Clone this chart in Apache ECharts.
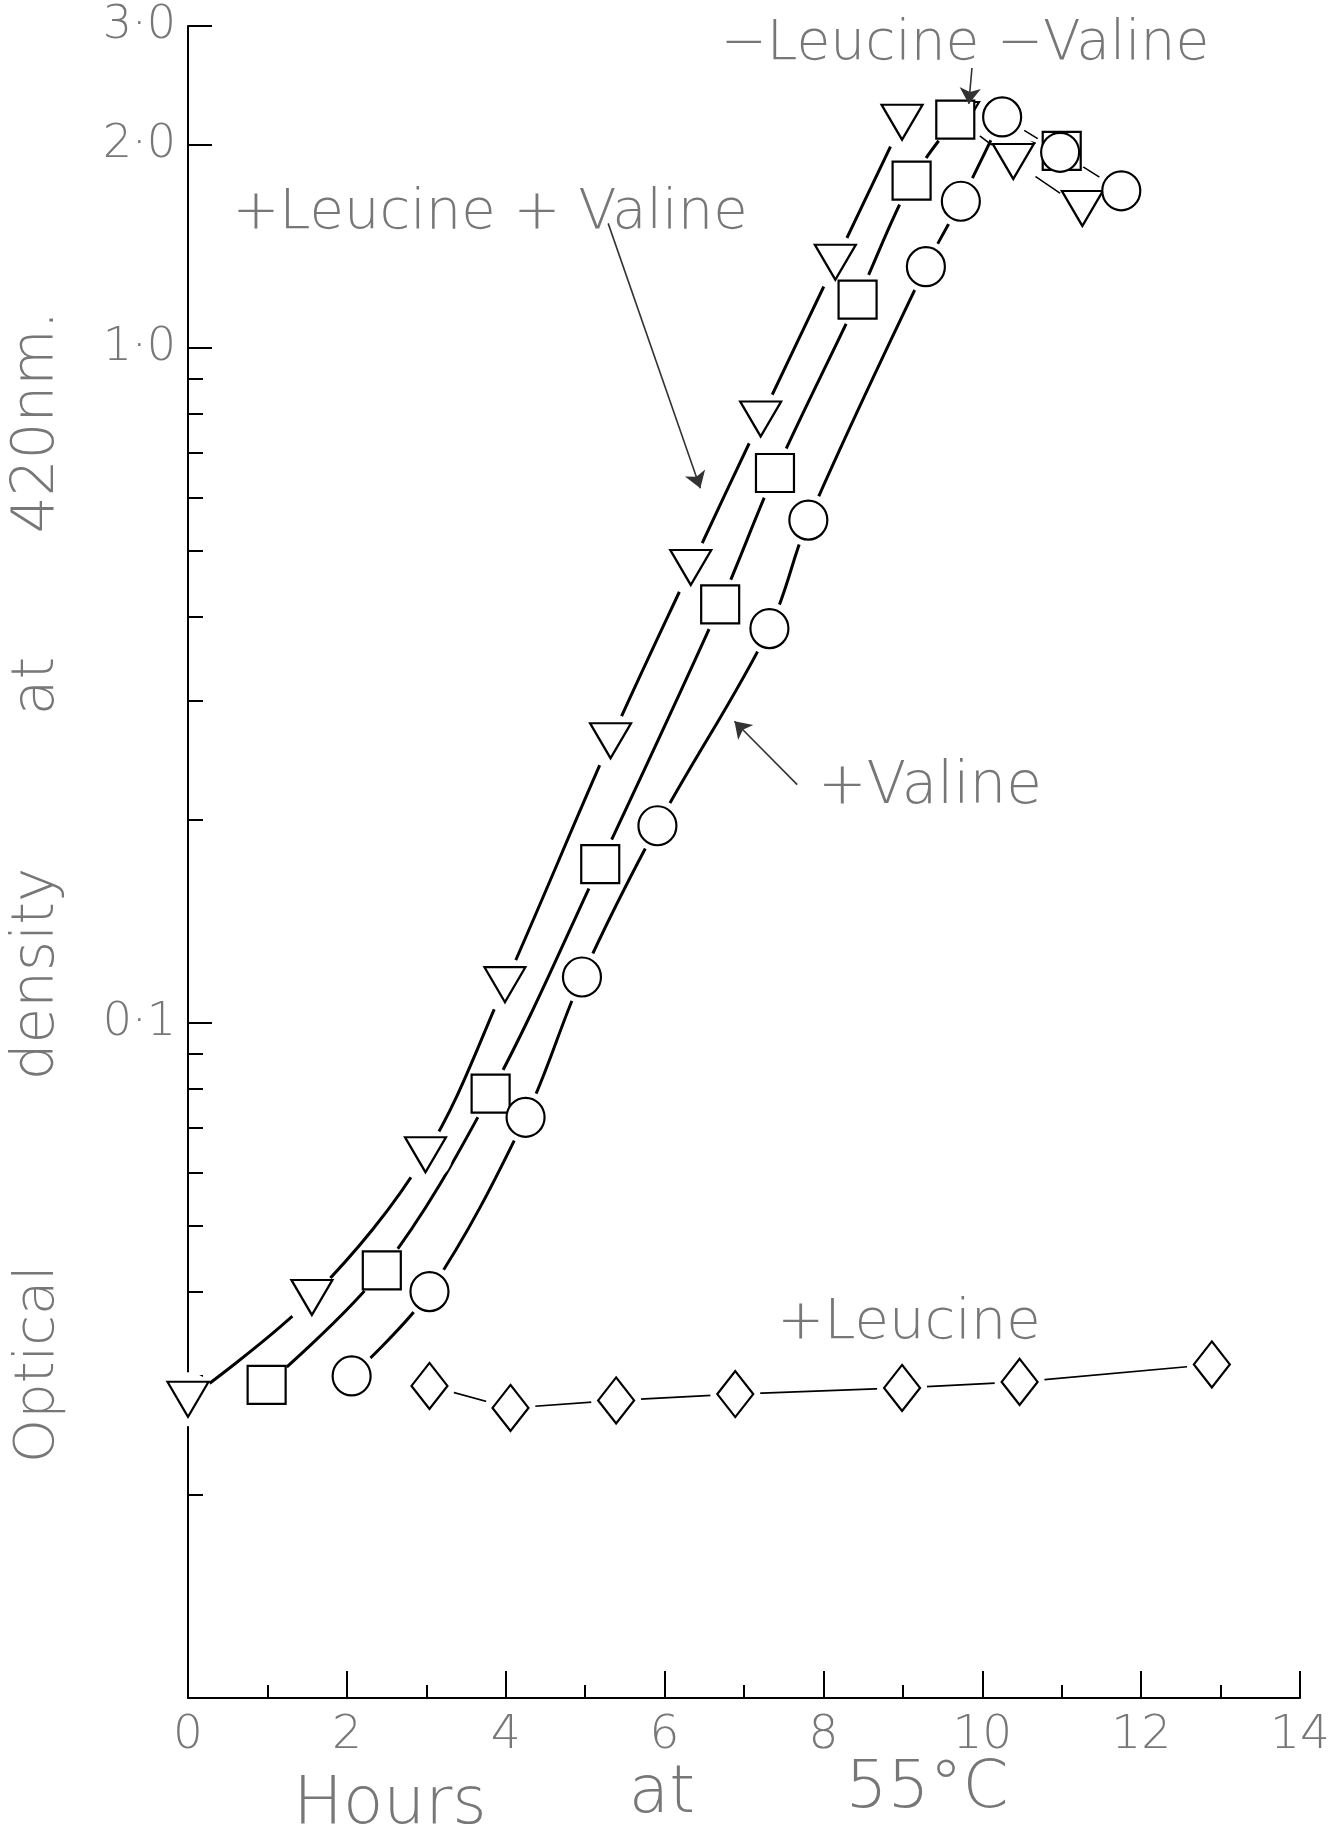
<!DOCTYPE html>
<html>
<head>
<meta charset="utf-8">
<script src="https://cdn.jsdelivr.net/npm/echarts@6/dist/echarts.min.js"></script>
<style>html,body{margin:0;padding:0;background:#fff}#c{width:1342px;height:1839px}</style>
</head>
<body>
<div id="c"></div>
<script>
// ---- data (hours at 55 °C, optical density at 420 nm) ----
const triHours = [0, 1.56, 2.99, 3.99, 5.32, 6.33, 7.21, 8.15, 8.99, 9.70, 10.39, 11.26];
const triOD    = [0.0277, 0.0392, 0.0638, 0.114, 0.262, 0.473, 0.785, 1.34, 2.16, 2.18, 1.89, 1.61];
const sqHours  = [0.99, 2.44, 3.81, 5.19, 6.70, 7.39, 8.43, 9.11, 9.66, 11.0];
const sqOD     = [0.0291, 0.0430, 0.0786, 0.172, 0.417, 0.653, 1.18, 1.77, 2.18, 1.96];
const cirHours = [2.06, 3.04, 4.25, 4.96, 5.91, 7.32, 7.81, 9.29, 9.73, 10.25, 10.98, 11.75];
const cirOD    = [0.0300, 0.0400, 0.0725, 0.117, 0.196, 0.384, 0.556, 1.32, 1.65, 2.20, 1.95, 1.71];
const diaHours = [3.04, 4.06, 5.39, 6.89, 8.99, 10.47, 12.89];
const diaOD    = [0.0290, 0.0269, 0.0276, 0.0282, 0.0288, 0.0294, 0.0312];

const yMinorTicks = [0.02, 0.03, 0.04, 0.05, 0.06, 0.07, 0.08, 0.09, 0.2, 0.3, 0.4, 0.5, 0.6, 0.7, 0.8, 0.9];
const yLabelTicks = [0.1, 1, 2, 3];

// ---- annotation texts ----
const labelMinusBoth = '\u2212Leucine \u2212Valine';
const labelPlusBoth  = '+Leucine + Valine';
const labelPlusVal   = '+Valine';
const labelPlusLeu   = '+Leucine';

const FONT = '"DejaVu Sans", "Noto Sans", sans-serif';
const TXT = '#777';

function pairs(h, v) { return h.map((x, i) => [x, v[i]]); }
const tri = pairs(triHours, triOD);
const sq  = pairs(sqHours, sqOD);
const cir = pairs(cirHours, cirOD);
const dia = pairs(diaHours, diaOD);

function curve(data, width, smooth) {
  return { type: 'line', data: data, smooth: smooth, showSymbol: false, z: 1, silent: true,
           lineStyle: { color: '#000', width: width } };
}
function halo(data, size) {
  return { type: 'scatter', data: data, symbol: 'circle', symbolSize: size, z: 2, silent: true,
           itemStyle: { color: '#fff', borderWidth: 0, opacity: 1 } };
}
function marker(data, symbol, size, rotate) {
  return { type: 'scatter', data: data, symbol: symbol, symbolSize: size, symbolRotate: rotate || 0,
           z: 3, silent: true,
           itemStyle: { color: '#fff', borderColor: '#000', borderWidth: 2.2, opacity: 1 } };
}
function txt(text, x, y, size, rot) {
  return { type: 'text', x: x, y: y, rotation: rot || 0, silent: true,
           style: { text: text, fontSize: size, fontFamily: FONT, fontWeight: 200, fill: TXT,
                    align: 'center', verticalAlign: 'middle' } };
}

const chart = echarts.init(document.getElementById('c'), null, { renderer: 'canvas' });

const diaLine = curve(dia, 1.6, false);
diaLine.markLine = {
  silent: true, symbol: ['none', 'arrow'], symbolSize: 16,
  lineStyle: { color: '#333', width: 1.6, type: 'solid' },
  label: { show: false },
  data: [
    [{ coord: [5.29, 1.53] }, { coord: [6.45, 0.62] }],
    [{ coord: [7.67, 0.2255] }, { coord: [6.88, 0.28] }],
    [{ coord: [9.87, 2.6] }, { coord: [9.83, 2.3] }]
  ]
};

chart.setOption({
  animation: false,
  backgroundColor: '#fff',
  grid: { left: 188, right: 42, top: 26, bottom: 141, containLabel: false, outerBoundsMode: 'none' },
  xAxis: {
    type: 'value', min: 0, max: 14, interval: 2,
    axisLine: { show: true, onZero: false, lineStyle: { color: '#000', width: 2 } },
    axisTick: { show: true, inside: true, length: 27, lineStyle: { color: '#000', width: 2 } },
    minorTick: { show: true, splitNumber: 2, length: 13, lineStyle: { color: '#000', width: 2 } },
    axisLabel: { fontSize: 47, color: TXT, margin: 14, fontFamily: FONT, fontWeight: 200 },
    splitLine: { show: false }, minorSplitLine: { show: false }
  },
  yAxis: [
    {
      type: 'log', logBase: 10, min: 0.01, max: 3, position: 'left',
      axisLine: { show: true, lineStyle: { color: '#000', width: 2 } },
      axisTick: { show: true, inside: true, length: 15, lineStyle: { color: '#000', width: 2 }, customValues: yMinorTicks },
      axisLabel: { show: false },
      splitLine: { show: false }
    },
    {
      type: 'log', logBase: 10, min: 0.01, max: 3, position: 'left',
      axisLine: { show: false },
      axisTick: { show: true, inside: true, length: 24, lineStyle: { color: '#000', width: 2 }, customValues: yLabelTicks },
      axisLabel: { customValues: yLabelTicks, fontSize: 46, color: TXT, margin: 12, fontFamily: FONT, fontWeight: 200,
                   formatter: v => Number(v).toFixed(1).replace('.', '\u00B7') },
      splitLine: { show: false }
    }
  ],
  series: [
    curve(tri.slice(0, 9), 3, 0.35),
    curve(tri.slice(8), 1.5, false),
    curve(sq.slice(0, 9), 3, 0.35),
    curve(sq.slice(8), 1.5, false),
    curve(cir.slice(0, 10), 3, 0.35),
    curve(cir.slice(9), 1.5, false),
    diaLine,
    halo(tri, 54), halo(sq, 54), halo(cir, 52), halo(dia, [50, 60]),
    marker(tri, 'triangle', [41, 35], 180),
    marker(sq, 'rect', [38, 38]),
    marker(cir, 'circle', [38, 39]),
    marker(dia, 'diamond', [36, 46])
  ],
  graphic: { elements: [
    txt('Optical', 38, 1364, 56, Math.PI / 2),
    txt('density', 38, 974, 58, Math.PI / 2),
    txt('at', 38, 686, 58, Math.PI / 2),
    txt('420nm.', 38, 422, 58, Math.PI / 2),
    txt('Hours', 390, 1806, 66),
    txt('at', 662, 1795, 66),
    txt('55\u00B0C', 927, 1790, 66),
    txt(labelMinusBoth, 965, 45, 55),
    txt(labelPlusBoth, 490, 213, 56),
    txt(labelPlusVal, 930, 788, 58),
    txt(labelPlusLeu, 909, 1323, 56)
  ] }
});
</script>
</body>
</html>
